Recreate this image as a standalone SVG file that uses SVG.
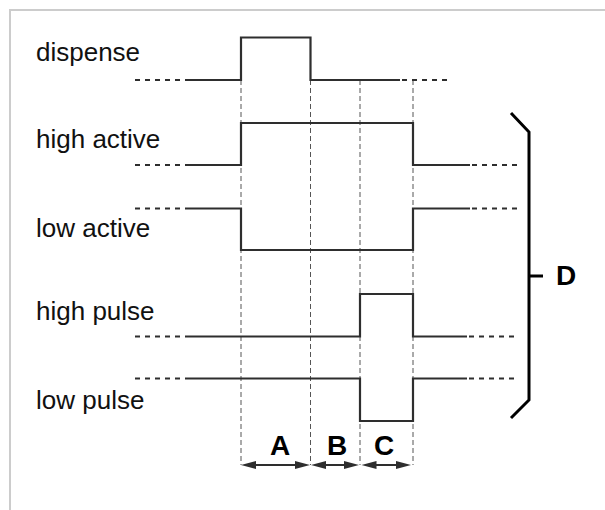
<svg xmlns="http://www.w3.org/2000/svg" width="605" height="510" viewBox="0 0 605 510">
<style>
.lbl{font-family:"Liberation Sans",Arial,sans-serif;font-size:26px;fill:#111}
.big{font-family:"Liberation Sans",Arial,sans-serif;font-size:28px;font-weight:bold;fill:#000}
.wave{fill:none;stroke:#2e2e2e;stroke-width:2.2;stroke-linejoin:miter}
.ext{fill:none;stroke:#2e2e2e;stroke-width:2.2;stroke-dasharray:5 5}
.guide{fill:none;stroke:#555;stroke-width:1;stroke-dasharray:5 3}
.dim{fill:none;stroke:#2e2e2e;stroke-width:2}
.head{fill:#2e2e2e}
</style>
<rect x="10" y="10" width="700" height="600" fill="none" stroke="#cccccc" stroke-width="2"/>
<g id="guides">
<line class="guide" x1="241" y1="80" x2="241" y2="465"/>
<line class="guide" x1="310.5" y1="80" x2="310.5" y2="465"/>
<line class="guide" x1="360" y1="80" x2="360" y2="465"/>
<line class="guide" x1="413" y1="80" x2="413" y2="465"/>
</g>
<g id="dispense">
<text class="lbl" x="36" y="61">dispense</text>
<line class="ext" x1="135" y1="80" x2="185" y2="80"/>
<polyline class="wave" points="185,80 241,80 241,37.5 310.5,37.5 310.5,80 400,80"/>
<line class="ext" x1="402" y1="80" x2="450" y2="80"/>
</g>
<g id="high-active">
<text class="lbl" x="36" y="148">high active</text>
<line class="ext" x1="135" y1="165" x2="185" y2="165"/>
<polyline class="wave" points="185,165 241,165 241,123 413,123 413,165 470,165"/>
<line class="ext" x1="472" y1="165" x2="520" y2="165"/>
</g>
<g id="low-active">
<text class="lbl" x="36" y="237">low active</text>
<line class="ext" x1="135" y1="208.5" x2="185" y2="208.5"/>
<polyline class="wave" points="185,208.5 241,208.5 241,250 413,250 413,208.5 470,208.5"/>
<line class="ext" x1="472" y1="208.5" x2="520" y2="208.5"/>
</g>
<g id="high-pulse">
<text class="lbl" x="36" y="320">high pulse</text>
<line class="ext" x1="135" y1="336.5" x2="185" y2="336.5"/>
<polyline class="wave" points="185,336.5 360,336.5 360,294 413,294 413,336.5 467,336.5"/>
<line class="ext" x1="469" y1="336.5" x2="517" y2="336.5"/>
</g>
<g id="low-pulse">
<text class="lbl" x="36" y="409">low pulse</text>
<line class="ext" x1="135" y1="378.5" x2="185" y2="378.5"/>
<polyline class="wave" points="185,378.5 360,378.5 360,421 413,421 413,378.5 467,378.5"/>
<line class="ext" x1="469" y1="378.5" x2="517" y2="378.5"/>
</g>
<g id="connectors">
<line class="dim" x1="250" y1="465" x2="301" y2="465"/>
<polygon class="head" points="241,465 256,461 256,469"/>
<polygon class="head" points="310,465 295,461 295,469"/>
<line class="dim" x1="319" y1="465" x2="351" y2="465"/>
<polygon class="head" points="311,465 326,461 326,469"/>
<polygon class="head" points="359,465 344,461 344,469"/>
<line class="dim" x1="370" y1="465" x2="402" y2="465"/>
<polygon class="head" points="361.5,465 376.5,461 376.5,469"/>
<polygon class="head" points="411,465 396,461 396,469"/>
</g>
<g id="label-A"><text class="big" x="280" y="455" text-anchor="middle">A</text></g>
<g id="label-B"><text class="big" x="337" y="455" text-anchor="middle">B</text></g>
<g id="label-C"><text class="big" x="384" y="455" text-anchor="middle">C</text></g>
<g id="bracket-D">
<polyline points="511,113 529,132 529,400 511,418" fill="none" stroke="#000" stroke-width="3"/>
<line x1="529" y1="276" x2="543" y2="276" stroke="#000" stroke-width="3"/>
<text class="big" x="556" y="285">D</text>
</g>
</svg>
